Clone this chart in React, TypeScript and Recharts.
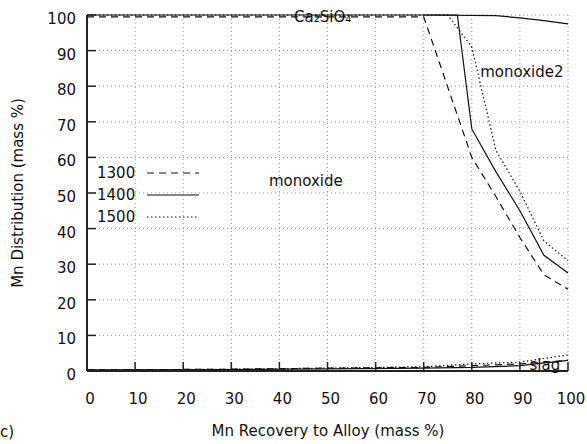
import React from 'react';
import { LineChart, Line, XAxis, YAxis, CartesianGrid, Legend, ReferenceDot } from 'recharts';

const axisTicks = [0, 10, 20, 30, 40, 50, 60, 70, 80, 90, 100];

// monoxide / monoxide2 boundary per temperature
const recovery1300 = [0, 70, 80, 85, 90, 95, 100];
const dist1300 = [99.5, 99.5, 60, 49, 37.5, 27, 23];
const recovery1400 = [0, 77, 80, 85, 90, 95, 100];
const dist1400 = [100, 100, 68, 56, 45, 32.5, 27.5];
const recovery1500 = [0, 75, 80, 85, 90, 95, 100];
const dist1500 = [100, 100, 91, 62, 50.5, 36.5, 31];

// slag boundary near the bottom
const slagRecovery = [0, 30, 50, 70, 80, 90, 100];
const slag1300 = [0.3, 0.5, 0.8, 1, 1.5, 2, 3];
const slag1400 = [0.3, 0.4, 0.6, 0.8, 1, 1.5, 3];
const slag1500 = [0.3, 0.5, 0.8, 1.2, 2, 2.5, 4.5];

// Ca2SiO4 boundary at the top (1400)
const topRecovery = [70, 85, 90, 95, 100];
const ca2sio4Top = [100, 99.8, 99.2, 98.4, 97.5];

const temperatures = ['1300', '1400', '1500'];
const dashes = ['7 5', undefined, '1.5 2.5'];

const toPoints = (xs: number[], ys: number[]) => xs.map((x, i) => ({ x, y: ys[i] }));

const FONT = '"DejaVu Sans", Verdana, sans-serif';
const INK = '#111';

const YTick = (props: any) => {
    const { x, y, payload } = props;
    return (
        <text x={x} y={y + 9} textAnchor="end" fontSize={15} fill={INK} fontFamily={FONT}>
            {payload.value}
        </text>
    );
};

const XTick = (props: any) => {
    const { x, y, payload } = props;
    return (
        <text x={x + 3} y={y} textAnchor="middle" fontSize={15} fill={INK} fontFamily={FONT}>
            {payload.value}
        </text>
    );
};

const NoTick = () => <g />;

const LegendBox = () => (
    <div style={{ fontFamily: FONT, fontSize: 15, color: INK }}>
        {temperatures.map((t, i) => (
            <div key={t} style={{ display: 'flex', alignItems: 'center', height: 22 }}>
                <span style={{ width: 50 }}>{t}</span>
                <svg width={54} height={10}>
                    <line x1={0} y1={5} x2={52} y2={5} stroke={INK} strokeWidth={1.2} strokeDasharray={dashes[i]} />
                </svg>
            </div>
        ))}
    </div>
);

const textLabel = (value: string) => ({ value, position: 'center' as const, fontSize: 15, fill: INK, fontFamily: FONT });

const App: React.FC = () => {
    const mainSeries = [
        toPoints(recovery1300, dist1300),
        toPoints(recovery1400, dist1400),
        toPoints(recovery1500, dist1500),
    ];
    const slagSeries = [
        toPoints(slagRecovery, slag1300),
        toPoints(slagRecovery, slag1400),
        toPoints(slagRecovery, slag1500),
    ];

    return (
        <div style={{ position: 'absolute', left: 0, top: 0, width: 587, height: 444, fontFamily: FONT, background: '#fff' }}>
            <LineChart width={587} height={444} margin={{ top: 15, right: 19, left: 0, bottom: 0 }}>
                <CartesianGrid stroke="#999" strokeDasharray="1 3" ticks={axisTicks} />
                <XAxis
                    dataKey="x"
                    type="number"
                    domain={[0, 100]}
                    ticks={axisTicks}
                    height={73}
                    tickSize={-9}
                    tickMargin={42}
                    tick={<XTick />}
                    axisLine={{ stroke: '#222', strokeWidth: 2 }}
                    tickLine={{ stroke: '#222', strokeWidth: 1.5 }}
                    allowDuplicatedCategory={false}
                />
                <XAxis
                    xAxisId="top"
                    orientation="top"
                    dataKey="x"
                    type="number"
                    domain={[0, 100]}
                    ticks={axisTicks}
                    height={0}
                    tickSize={-9}
                    tick={<NoTick />}
                    axisLine={{ stroke: '#222', strokeWidth: 2 }}
                    tickLine={{ stroke: '#222', strokeWidth: 1.5 }}
                />
                <YAxis
                    type="number"
                    domain={[0, 100]}
                    ticks={axisTicks}
                    width={87}
                    tickSize={-9}
                    tickMargin={20}
                    tick={<YTick />}
                    axisLine={{ stroke: '#222', strokeWidth: 2 }}
                    tickLine={{ stroke: '#222', strokeWidth: 1.5 }}
                />
                <YAxis
                    yAxisId="right"
                    orientation="right"
                    type="number"
                    domain={[0, 100]}
                    ticks={axisTicks}
                    width={0}
                    tickSize={-9}
                    tick={<NoTick />}
                    axisLine={{ stroke: '#222', strokeWidth: 2 }}
                    tickLine={{ stroke: '#222', strokeWidth: 1.5 }}
                />
                {mainSeries.map((pts, i) => (
                    <Line
                        key={'m' + i}
                        data={pts}
                        dataKey="y"
                        type="linear"
                        stroke={INK}
                        strokeWidth={1.2}
                        strokeDasharray={dashes[i]}
                        dot={false}
                        isAnimationActive={false}
                        legendType="none"
                    />
                ))}
                {slagSeries.map((pts, i) => (
                    <Line
                        key={'s' + i}
                        data={pts}
                        dataKey="y"
                        type="linear"
                        stroke={INK}
                        strokeWidth={1.2}
                        strokeDasharray={dashes[i]}
                        dot={false}
                        isAnimationActive={false}
                        legendType="none"
                    />
                ))}
                <Line
                    data={toPoints(topRecovery, ca2sio4Top)}
                    dataKey="y"
                    type="linear"
                    stroke={INK}
                    strokeWidth={1.2}
                    dot={false}
                    isAnimationActive={false}
                    legendType="none"
                />
                <ReferenceDot x={49} y={99.6} r={0} stroke="none" label={textLabel('Ca₂SiO₄')} />
                <ReferenceDot x={90.4} y={84} r={0} stroke="none" label={textLabel('monoxide2')} />
                <ReferenceDot x={45.5} y={53.6} r={0} stroke="none" label={textLabel('monoxide')} />
                <ReferenceDot x={95.2} y={1.8} r={0} stroke="none" label={textLabel('slag')} />
                <Legend
                    layout="vertical"
                    align="center"
                    verticalAlign="middle"
                    wrapperStyle={{ left: 97, top: 162, width: 130 }}
                    content={() => <LegendBox />}
                />
                <text x={18} y={193} transform="rotate(-90, 18, 193)" textAnchor="middle" dominantBaseline="central" fontSize={15} fill={INK} fontFamily={FONT}>
                    Mn Distribution (mass %)
                </text>
                <text x={328} y={436} textAnchor="middle" fontSize={15} fill={INK} fontFamily={FONT}>
                    Mn Recovery to Alloy (mass %)
                </text>
                <text x={0} y={437} fontSize={15} fill={INK} fontFamily={FONT}>
                    c)
                </text>
            </LineChart>
        </div>
    );
};

export default App;
